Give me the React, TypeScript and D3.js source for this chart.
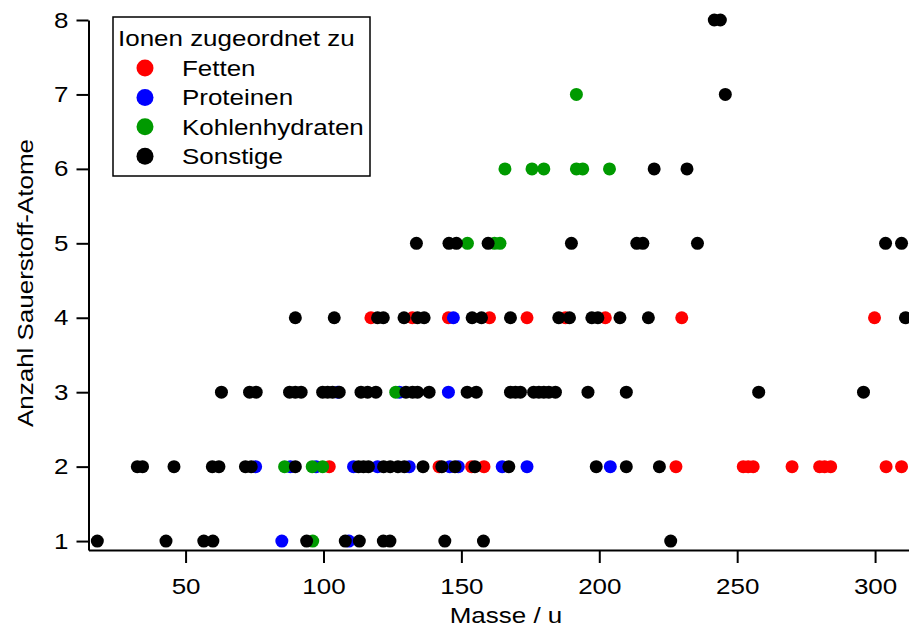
import { useRef, useEffect } from 'react';
import * as d3 from 'd3';

const WIDTH = 909;
const HEIGHT = 630;
const MARGIN = { top: 20, right: 0, bottom: 80, left: 88.5 };
const FONT = '"Liberation Sans", Arial, sans-serif';
const STRETCH = 1.18; // glyphs in the original are wider than Arial

// [Masse / u, Anzahl O-Atome]
const fetten: [number, number][] = [
  [102.1, 2], [141.9, 2], [153.7, 2], [158.2, 2], [227.8, 2], [252.2, 2], [254, 2],
  [255.8, 2], [269.9, 2], [279.9, 2], [281.7, 2], [283.9, 2], [304, 2], [309.6, 2],
  [117.2, 4], [132.2, 4], [145.3, 4], [160.2, 4], [173.8, 4], [187.7, 4], [202.2, 4],
  [229.9, 4], [299.8, 4],
];

const proteinen: [number, number][] = [
  [84.9, 1], [109.2, 1],
  [75.4, 2], [88.0, 2], [97.3, 2], [110.9, 2], [119.6, 2], [131.1, 2], [145.8, 2],
  [148.9, 2], [164.8, 2], [173.8, 2], [204, 2],
  [105.2, 3], [127.5, 3], [145.3, 3],
  [147.1, 4],
];

const kohlenhydraten: [number, number][] = [
  [96.1, 1],
  [85.9, 2], [95.9, 2], [99.7, 2],
  [126.2, 3],
  [152.2, 5], [162, 5], [164, 5],
  [165.8, 6], [175.6, 6], [179.9, 6], [191.7, 6], [194, 6], [203.7, 6],
  [191.7, 7],
];

const sonstige: [number, number][] = [
  [18.0, 1], [42.9, 1], [56.6, 1], [59.9, 1], [93.9, 1], [107.9, 1], [113, 1],
  [121.7, 1], [124.1, 1], [144, 1], [158, 1], [225.9, 1],
  [32.5, 2], [34.4, 2], [45.8, 2], [59.7, 2], [62.1, 2], [71.7, 2], [73.8, 2],
  [89.8, 2], [112.7, 2], [114.5, 2], [116.3, 2], [121.8, 2], [124.2, 2], [127, 2],
  [129.3, 2], [136.1, 2], [142.9, 2], [147.7, 2], [154.9, 2], [167.2, 2], [198.9, 2],
  [209.8, 2], [221.8, 2],
  [63, 3], [73.2, 3], [75.6, 3], [87.7, 3], [89.8, 3], [91.9, 3], [99.7, 3], [101.5, 3],
  [103.3, 3], [105.7, 3], [113.6, 3], [116, 3], [119, 3], [129.9, 3], [132.3, 3],
  [134.1, 3], [138.3, 3], [152.1, 3], [155.4, 3], [167.8, 3], [169.6, 3], [171.4, 3],
  [176.2, 3], [178.1, 3], [179.9, 3], [181.7, 3], [184.1, 3], [195.9, 3], [209.8, 3],
  [257.8, 3], [295.8, 3],
  [89.8, 4], [103.9, 4], [119.6, 4], [121.7, 4], [129.2, 4], [134.1, 4], [136.5, 4],
  [153.9, 4], [157.3, 4], [167.8, 4], [185.3, 4], [189.2, 4], [197.3, 4], [199.5, 4],
  [207.5, 4], [217.8, 4], [311, 4],
  [133.7, 5], [145.5, 5], [148.2, 5], [159.7, 5], [189.9, 5], [213.6, 5], [215.8, 5],
  [235.6, 5], [303.8, 5], [309.6, 5],
  [219.9, 6], [231.8, 6],
  [245.7, 7],
  [241.7, 8], [243.9, 8],
];

const xTicks = [50, 100, 150, 200, 250, 300];
const yTicks = [1, 2, 3, 4, 5, 6, 7, 8];

const SERIES = [
  { label: 'Fetten', color: '#ff0000', data: fetten },
  { label: 'Proteinen', color: '#0000ff', data: proteinen },
  { label: 'Kohlenhydraten', color: '#009a00', data: kohlenhydraten },
  { label: 'Sonstige', color: '#000000', data: sonstige },
];

export default function App() {
  const svgRef = useRef<SVGSVGElement>(null);

  useEffect(() => {
    const svg = d3.select(svgRef.current);
    svg.selectAll('*').remove();

    const x = d3.scaleLinear().domain([14.8, 312.3]).range([MARGIN.left, WIDTH - MARGIN.right]);
    const y = d3.scaleLinear().domain([0.88, 8]).range([HEIGHT - MARGIN.bottom, MARGIN.top]);
    const bottom = HEIGHT - MARGIN.bottom;

    // points, Sonstige last so it sits on top
    SERIES.forEach(s => {
      svg.append('g').selectAll('circle').data(s.data).join('circle')
        .attr('cx', d => x(d[0]))
        .attr('cy', d => y(d[1]))
        .attr('r', 6.5)
        .attr('fill', s.color);
    });

    // x axis
    const gx = svg.append('g').attr('transform', `translate(0,${bottom})`)
      .call(d3.axisBottom(x).tickValues(xTicks).tickSize(13).tickSizeOuter(0).tickPadding(15));
    gx.select('.domain').attr('stroke-width', 2);
    gx.selectAll('.tick line').attr('stroke-width', 2);
    gx.selectAll('.tick text')
      .attr('font-size', 22).attr('font-family', FONT).attr('fill', '#000')
      .attr('transform', `scale(${STRETCH},1)`);

    // y axis
    const gy = svg.append('g').attr('transform', `translate(${MARGIN.left},0)`)
      .call(d3.axisLeft(y).tickValues(yTicks).tickSize(12).tickSizeOuter(0).tickPadding(8));
    gy.select('.domain').attr('stroke-width', 2);
    gy.selectAll('.tick line').attr('stroke-width', 2);
    gy.selectAll('.tick text')
      .attr('font-size', 22).attr('font-family', FONT).attr('fill', '#000')
      .attr('x', -20 / STRETCH)
      .attr('transform', `scale(${STRETCH},1)`);

    // axis titles
    svg.append('text')
      .attr('transform', `translate(506,623) scale(${STRETCH},1)`)
      .attr('text-anchor', 'middle').attr('font-size', 22).attr('font-family', FONT)
      .text('Masse / u');
    svg.append('text')
      .attr('transform', `translate(33,283) rotate(-90) scale(${STRETCH},1)`)
      .attr('text-anchor', 'middle').attr('font-size', 22).attr('font-family', FONT)
      .text('Anzahl Sauerstoff-Atome');

    // legend
    const legend = svg.append('g');
    legend.append('rect')
      .attr('x', 113).attr('y', 17).attr('width', 257).attr('height', 159)
      .attr('fill', '#fff').attr('stroke', '#000').attr('stroke-width', 1.5);
    legend.append('text')
      .attr('transform', `translate(118,46) scale(${STRETCH},1)`)
      .attr('font-size', 22).attr('font-family', FONT)
      .text('Ionen zugeordnet zu');
    SERIES.forEach((s, i) => {
      const row = legend.append('g').attr('transform', `translate(0,${68 + i * 29.4})`);
      row.append('circle').attr('cx', 145).attr('cy', 0).attr('r', 8.5).attr('fill', s.color);
      row.append('text')
        .attr('transform', `translate(182,8) scale(${STRETCH},1)`)
        .attr('font-size', 22).attr('font-family', FONT)
        .text(s.label);
    });
  }, []);

  return (
    <svg
      ref={svgRef}
      width={WIDTH}
      height={HEIGHT}
      style={{ position: 'absolute', left: 0, top: 0, background: '#fff' }}
    />
  );
}
